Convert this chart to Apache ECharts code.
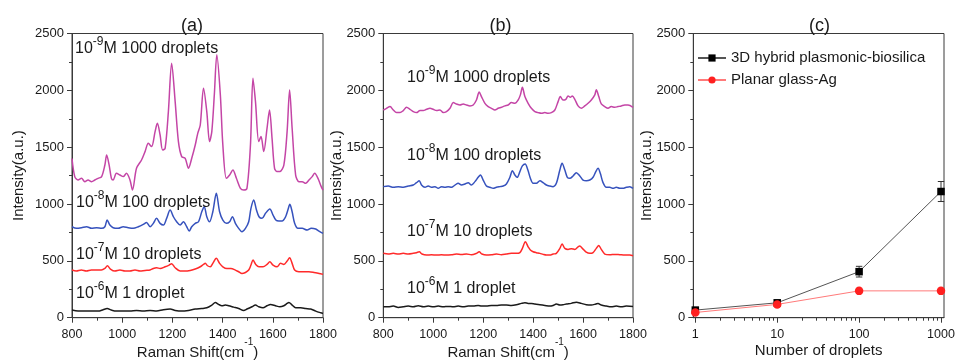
<!DOCTYPE html>
<html><head><meta charset="utf-8">
<script src="https://cdn.jsdelivr.net/npm/echarts@6/dist/echarts.min.js"></script>
<style>html,body{margin:0;padding:0;background:#fff}#c{width:957px;height:364px}</style>
</head><body><div id="c"></div>
<script>
// ---------- DATA ----------
// Panel (a): spectra, [Raman shift cm-1, intensity]
const aMagenta = [[800,1400],[811,1241],[824,1211],[838,1226],[851,1197],[864,1211],[878,1197],[891,1211],[904,1226],[918,1241],[931,1343],[938,1431],[948,1343],[957,1226],[964,1211],[977,1270],[991,1255],[1004,1241],[1017,1270],[1031,1211],[1041,1123],[1057,1314],[1077,1387],[1091,1461],[1104,1534],[1117,1505],[1131,1637],[1140,1710],[1151,1607],[1161,1475],[1171,1490],[1184,1813],[1197,2238],[1211,1901],[1224,1549],[1237,1417],[1251,1402],[1264,1314],[1277,1402],[1291,1519],[1301,1622],[1311,1695],[1324,2018],[1337,1813],[1348,1549],[1357,1637],[1367,1960],[1377,2312],[1391,1960],[1401,1519],[1415,1226],[1428,1255],[1441,1299],[1455,1226],[1471,1138],[1484,1123],[1497,1138],[1511,1519],[1521,2106],[1531,1901],[1544,1549],[1553,1593],[1564,1461],[1577,1666],[1587,1827],[1597,1578],[1607,1314],[1617,1285],[1628,1285],[1644,1343],[1657,1637],[1667,2004],[1677,1666],[1691,1255],[1704,1197],[1717,1197],[1731,1182],[1744,1211],[1757,1241],[1767,1270],[1780,1226],[1793,1153],[1800,1123]];
const aBlue = [[800,800],[818,786],[838,791],[858,800],[878,786],[898,791],[918,786],[931,800],[940,859],[951,815],[964,791],[984,786],[1004,800],[1024,791],[1044,786],[1064,800],[1084,821],[1097,838],[1111,800],[1124,830],[1137,874],[1151,830],[1164,815],[1177,874],[1191,947],[1204,888],[1217,844],[1231,815],[1244,844],[1257,800],[1267,762],[1277,800],[1291,830],[1304,844],[1317,932],[1327,976],[1337,888],[1348,844],[1361,932],[1375,1094],[1388,932],[1401,859],[1415,830],[1428,844],[1439,888],[1451,830],[1464,786],[1477,756],[1491,786],[1504,844],[1513,962],[1524,1035],[1535,947],[1545,888],[1557,874],[1571,918],[1588,956],[1601,903],[1612,859],[1624,850],[1637,850],[1651,888],[1660,947],[1668,997],[1677,932],[1687,830],[1700,786],[1717,786],[1737,771],[1753,786],[1771,780],[1784,762],[1800,742]];
const aRed = [[800,419],[817,410],[837,419],[857,410],[877,419],[897,419],[917,419],[931,433],[941,457],[953,428],[971,410],[991,419],[1011,410],[1031,410],[1051,419],[1071,410],[1091,416],[1111,419],[1124,433],[1137,439],[1151,433],[1171,448],[1187,463],[1197,475],[1211,439],[1231,410],[1251,410],[1271,416],[1291,428],[1311,448],[1324,469],[1331,478],[1340,457],[1351,448],[1361,478],[1375,522],[1388,478],[1401,448],[1417,433],[1433,433],[1451,419],[1464,404],[1477,389],[1491,398],[1504,419],[1513,463],[1521,507],[1532,469],[1545,448],[1561,448],[1577,469],[1588,492],[1601,463],[1617,448],[1631,478],[1644,469],[1657,498],[1667,527],[1677,478],[1687,419],[1704,404],[1724,404],[1744,404],[1764,398],[1784,389],[1800,381]];
const aBlack = [[800,67],[824,58],[851,58],[877,58],[904,58],[924,70],[940,81],[957,67],[977,58],[1004,58],[1031,58],[1057,64],[1084,58],[1111,64],[1137,58],[1164,70],[1191,76],[1211,64],[1237,58],[1264,64],[1291,76],[1317,81],[1337,87],[1357,111],[1371,134],[1384,117],[1397,105],[1411,111],[1424,105],[1444,93],[1464,81],[1484,64],[1497,76],[1517,96],[1531,111],[1544,96],[1561,87],[1577,105],[1591,117],[1611,105],[1628,96],[1644,105],[1657,125],[1664,134],[1677,111],[1691,87],[1711,87],[1731,81],[1751,76],[1771,58],[1791,43],[1800,37]];
// Panel (b)
const bMagenta = [[800,1827],[813,1842],[827,1857],[840,1827],[853,1804],[867,1804],[880,1822],[893,1851],[907,1833],[920,1813],[933,1804],[947,1822],[960,1822],[973,1833],[987,1842],[1000,1833],[1013,1822],[1027,1827],[1040,1804],[1053,1813],[1067,1842],[1080,1892],[1093,1880],[1107,1871],[1120,1880],[1133,1871],[1147,1863],[1160,1871],[1173,1915],[1184,1985],[1193,1945],[1207,1886],[1220,1857],[1233,1842],[1247,1827],[1260,1842],[1273,1851],[1287,1863],[1300,1871],[1313,1892],[1327,1886],[1340,1915],[1349,1960],[1357,2027],[1367,1945],[1380,1886],[1393,1842],[1407,1813],[1420,1804],[1433,1798],[1447,1804],[1460,1798],[1473,1804],[1487,1827],[1500,1901],[1509,1945],[1520,1915],[1531,1921],[1540,1951],[1549,1939],[1557,1951],[1567,1921],[1580,1863],[1593,1842],[1607,1863],[1620,1886],[1633,1915],[1647,1960],[1653,2005],[1663,1945],[1673,1880],[1687,1857],[1700,1842],[1713,1857],[1727,1851],[1740,1857],[1753,1863],[1767,1871],[1780,1871],[1800,1851]];
const bBlue = [[800,1153],[820,1158],[840,1147],[860,1153],[880,1147],[900,1158],[920,1167],[933,1188],[944,1205],[953,1167],[967,1147],[980,1158],[993,1147],[1007,1153],[1020,1138],[1033,1153],[1047,1147],[1060,1153],[1073,1147],[1087,1167],[1100,1182],[1113,1167],[1127,1176],[1140,1188],[1153,1167],[1167,1197],[1180,1235],[1189,1255],[1200,1211],[1213,1158],[1227,1147],[1240,1138],[1253,1147],[1267,1153],[1280,1158],[1293,1176],[1307,1235],[1317,1293],[1327,1255],[1336,1235],[1347,1285],[1357,1335],[1368,1352],[1379,1299],[1389,1226],[1400,1182],[1413,1182],[1427,1205],[1440,1188],[1453,1167],[1467,1158],[1480,1153],[1493,1182],[1507,1299],[1516,1358],[1527,1299],[1537,1235],[1547,1226],[1560,1247],[1573,1276],[1587,1247],[1600,1211],[1613,1205],[1627,1211],[1640,1235],[1651,1285],[1660,1314],[1669,1270],[1680,1188],[1693,1147],[1707,1147],[1720,1138],[1733,1147],[1747,1138],[1760,1138],[1773,1147],[1787,1153],[1800,1138]];
const bRed = [[800,566],[820,560],[840,566],[860,560],[880,566],[900,560],[920,566],[933,572],[944,580],[955,560],[973,551],[993,554],[1013,551],[1033,554],[1053,551],[1073,554],[1093,560],[1113,557],[1133,560],[1153,554],[1173,566],[1184,580],[1195,560],[1213,551],[1233,554],[1253,560],[1273,554],[1293,560],[1313,566],[1333,566],[1347,572],[1357,610],[1369,668],[1380,624],[1389,595],[1400,580],[1413,572],[1427,566],[1440,557],[1453,551],[1467,551],[1480,560],[1493,566],[1507,610],[1516,648],[1527,610],[1540,601],[1553,607],[1567,601],[1580,624],[1587,630],[1597,610],[1611,580],[1627,566],[1640,572],[1653,610],[1663,636],[1673,601],[1687,560],[1707,554],[1727,557],[1747,554],[1767,551],[1787,551],[1800,545]];
const bBlack = [[800,96],[820,96],[840,102],[860,90],[880,96],[900,102],[920,96],[940,105],[960,96],[980,102],[1000,96],[1020,102],[1040,96],[1060,99],[1080,96],[1100,102],[1120,96],[1140,102],[1160,102],[1180,108],[1193,102],[1213,102],[1233,108],[1253,108],[1273,111],[1293,111],[1313,108],[1333,114],[1353,126],[1367,132],[1380,126],[1393,126],[1407,120],[1427,114],[1447,108],[1467,102],[1480,108],[1493,120],[1507,111],[1520,114],[1533,120],[1553,126],[1573,137],[1593,126],[1613,114],[1633,111],[1651,120],[1660,126],[1673,111],[1693,102],[1713,96],[1733,102],[1753,96],[1773,102],[1800,99]];
// Panel (c)
const droplets = [1, 10, 100, 1000];
const hybrid = [67, 131, 405, 1110];
const hybridErr = [10, 12, 47, 88];
const planar = [46, 117, 236, 236];
const logMajor = [1, 10, 100, 1000];
const logMinor = [2,3,4,5,6,7,8,9,20,30,40,50,60,70,80,90,200,300,400,500,600,700,800,900];
// labels
const panelTitles = ['(a)', '(b)', '(c)'];
const concLabels = [['-9','M 1000 droplets'],['-8','M 100 droplets'],['-7','M 10 droplets'],['-6','M 1 droplet']];
const legendNames = ['3D hybrid plasmonic-biosilica', 'Planar glass-Ag'];

// ---------- STYLE ----------
const FONT = "'Liberation Sans', Arial, sans-serif";
const AX = '#3a3a3a', TX = '#1a1a1a';
const COL = {mag:'#c445a6', blue:'#3652bd', red:'#ff2a2a', black:'#1a1a1a'};

const grids = [
  {left:72, right:634, top:33.5, bottom:46.3},
  {left:383.3, right:324, top:33.5, bottom:46.3},
  {left:693.3, right:13, top:33.5, bottom:46.3}
].map(g => Object.assign(g, {show:true, borderColor:AX, borderWidth:1, backgroundColor:'transparent', containLabel:false, outerBoundsMode:'none'}));

const plain = v => String(v);
const tickStyle = {show:true, length:5, lineStyle:{color:AX, width:1}};
const minorStyle = {show:true, splitNumber:2, length:3, lineStyle:{color:AX, width:1}};
const lblStyle = (m, fs) => ({color:TX, fontSize:fs || 12, fontFamily:FONT, margin:m, formatter:plain});

const ramanName = {
  name:'{n|Raman Shift(cm}{s|-1}{n|)}', nameLocation:'middle', nameGap:20, nameMoveOverlap:false,
  nameTextStyle:{rich:{n:{fontSize:15, fontFamily:FONT, color:TX, lineHeight:30, verticalAlign:'middle'},
                       s:{fontSize:10, fontFamily:FONT, color:TX, lineHeight:10, padding:[0,0,21,0], verticalAlign:'middle'}}}
};
function specX(gi){
  return Object.assign({gridIndex:gi, type:'value', min:800, max:1800, interval:200,
    axisLine:{show:true, lineStyle:{color:AX, width:1}}, axisTick:tickStyle, minorTick:minorStyle,
    axisLabel:lblStyle(10, 12.5), splitLine:{show:false}}, ramanName);
}
function yAx(gi, gap){
  return {gridIndex:gi, type:'value', min:0, max:2500, interval:500,
    axisLine:{show:true, lineStyle:{color:AX, width:1}}, axisTick:tickStyle, minorTick:minorStyle,
    axisLabel:lblStyle(8, 13), splitLine:{show:false},
    name:'Intensity(a.u.)', nameLocation:'middle', nameGap:gap, nameMoveOverlap:false,
    nameTextStyle:{fontSize:15, fontFamily:FONT, color:TX, lineHeight:18}};
}
const xAxes = [specX(0), specX(1),
  {gridIndex:2, type:'log', logBase:10, min:0.945, max:1088,
   axisLine:{show:true, lineStyle:{color:AX, width:1}},
   axisTick:{show:true, length:5, lineStyle:{color:AX}, customValues:logMajor},
   axisLabel:Object.assign(lblStyle(10, 12.5), {customValues:logMajor}),
   splitLine:{show:false}, minorTick:{show:false},
   name:'Number of droplets', nameLocation:'middle', nameGap:24, nameMoveOverlap:false,
   nameTextStyle:{fontSize:15, fontFamily:FONT, color:TX, lineHeight:18}},
  {gridIndex:2, type:'log', logBase:10, min:0.945, max:1088, position:'bottom',
   axisLine:{show:false}, axisLabel:{show:false}, splitLine:{show:false},
   axisTick:{show:true, length:3, lineStyle:{color:AX}, customValues:logMinor}}
];
const yAxes = [yAx(0,44), yAx(1,37), yAx(2,37)];

function line(name, data, xi, color){
  return {name, type:'line', xAxisIndex:xi, yAxisIndex:xi, data, showSymbol:false, smooth:0.3,
    lineStyle:{color, width:1.5}, itemStyle:{color}, silent:true, animation:false};
}
const series = [
  line('a9', aMagenta, 0, COL.mag), line('a8', aBlue, 0, COL.blue), line('a7', aRed, 0, COL.red), line('a6', aBlack, 0, COL.black),
  line('b9', bMagenta, 1, COL.mag), line('b8', bBlue, 1, COL.blue), line('b7', bRed, 1, COL.red), line('b6', bBlack, 1, COL.black),
  {type:'custom', xAxisIndex:2, yAxisIndex:2, animation:false, silent:true, z:3,
   data: droplets.map((d,i)=>[d, hybrid[i]-hybridErr[i], hybrid[i]+hybridErr[i]]),
   renderItem:function(params, api){
     const lo = api.coord([api.value(0), api.value(1)]);
     const hi = api.coord([api.value(0), api.value(2)]);
     const w = 3.2;
     const st = {stroke:'#333', lineWidth:1};
     return {type:'group', children:[
       {type:'line', shape:{x1:lo[0], y1:lo[1], x2:hi[0], y2:hi[1]}, style:st},
       {type:'line', shape:{x1:lo[0]-w, y1:lo[1], x2:lo[0]+w, y2:lo[1]}, style:st},
       {type:'line', shape:{x1:hi[0]-w, y1:hi[1], x2:hi[0]+w, y2:hi[1]}, style:st}
     ]};
   }},
  {name:legendNames[0], type:'line', xAxisIndex:2, yAxisIndex:2, z:4, animation:false,
   data: droplets.map((d,i)=>[d, hybrid[i]]), symbol:'rect', symbolSize:7.5, showSymbol:true,
   lineStyle:{color:'#555', width:1}, itemStyle:{color:'#000'}},
  {name:legendNames[1], type:'line', xAxisIndex:2, yAxisIndex:2, z:5, animation:false,
   data: droplets.map((d,i)=>[d, planar[i]]), symbol:'circle', symbolSize:8.5, showSymbol:true,
   lineStyle:{color:'#ff7a7a', width:1}, itemStyle:{color:'#ff2020'}}
];

// annotations
function ann(x, y, lab){
  return {type:'text', x, y, silent:true, z:10, style:{
    text:'{b|10}{s|' + lab[0] + '}{b|' + lab[1] + '}', align:'left', verticalAlign:'middle',
    rich:{b:{fontSize:16, fontFamily:FONT, fill:TX, lineHeight:26, verticalAlign:'middle'},
          s:{fontSize:12, fontFamily:FONT, fill:TX, lineHeight:12, verticalAlign:'top'}}}};
}
const annPosA = [[75,48.7],[76,202.8],[76,254.5],[76,294]];
const annPosB = [[407,77.5],[407,155.6],[407,231.7],[407,288.5]];
const titlePos = [[192,25.8],[500.5,25.8],[819.5,25.8]];
const graphics = [];
concLabels.forEach((l,i)=>{ graphics.push(ann(annPosA[i][0], annPosA[i][1], l)); graphics.push(ann(annPosB[i][0], annPosB[i][1], l)); });
panelTitles.forEach((t,i)=>graphics.push({type:'text', x:titlePos[i][0], y:titlePos[i][1], silent:true,
  style:{text:t, fontSize:18, fontFamily:FONT, fill:TX, align:'center', verticalAlign:'middle'}}));

const chart = echarts.init(document.getElementById('c'), null, {renderer:'canvas'});
chart.setOption({
  animation:false,
  backgroundColor:'#fff',
  grid:grids, xAxis:xAxes, yAxis:yAxes, series,
  legend:{data:legendNames, orient:'vertical', left:697, top:50, padding:0, itemWidth:28, itemHeight:9, itemGap:6,
    textStyle:{fontSize:15, fontFamily:FONT, color:TX, lineHeight:16}, selectedMode:false},
  graphic:graphics
});
</script></body></html>
